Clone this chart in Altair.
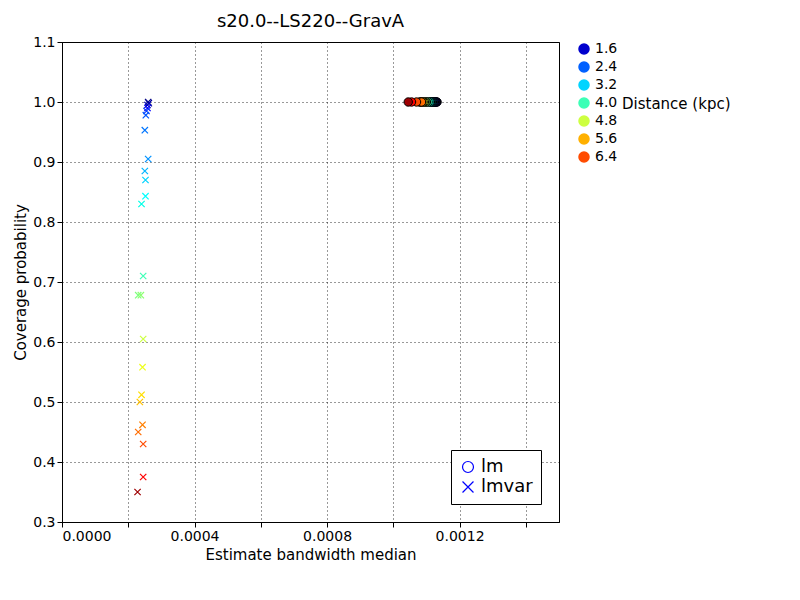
import altair as alt
import pandas as pd

# distance (kpc) per model, shared by both estimators
distance = [1.1, 1.3, 1.5, 1.9, 2.1, 2.3, 2.6, 2.8, 3.0, 3.2, 3.5, 3.7,
            4.0, 4.3, 4.4, 4.8, 5.0, 5.3, 5.5, 5.9, 6.1, 6.4, 6.7, 7.3]

# lmvar crosses
cov_lmvar = [1.0, 0.998, 0.995, 0.99, 0.985, 0.978, 0.953, 0.905, 0.885, 0.87, 0.843, 0.83,
             0.71, 0.678, 0.678, 0.605, 0.558, 0.512, 0.50, 0.462, 0.45, 0.43, 0.375, 0.35]
bw_lmvar = [0.000260, 0.000262, 0.000258, 0.000258, 0.000255, 0.000253, 0.000250, 0.000260,
            0.000250, 0.000252, 0.000252, 0.000240, 0.000245, 0.000230, 0.000238, 0.000245,
            0.000243, 0.000240, 0.000235, 0.000243, 0.000230, 0.000245, 0.000245, 0.000228]

# lm circles (all at coverage 1)
bw_lm = [0.001132, 0.001130, 0.001128, 0.001126, 0.001124, 0.001122, 0.001120, 0.001118,
         0.001116, 0.001114, 0.001112, 0.001110, 0.001105, 0.001100, 0.001098, 0.001094,
         0.001090, 0.001086, 0.001082, 0.001080, 0.001085, 0.001070, 0.001055, 0.001045]
cov_lm = [1.0] * len(distance)

df_lm = pd.DataFrame({"bw": bw_lm, "cov": cov_lm, "dist": distance, "method": "lm"})
df_var = pd.DataFrame({"bw": bw_lmvar, "cov": cov_lmvar, "dist": distance, "method": "lmvar"})

jet = ["#00007f", "#0000ff", "#007fff", "#00ffff", "#7fff7f", "#ffff00", "#ff7f00", "#ff0000", "#7f0000"]
xpath = "M-1,-1L1,1M-1,1L1,-1"

color = alt.Color("dist:Q", scale=alt.Scale(domain=[1.1, 7.5], range=jet),
                  legend=alt.Legend(title="Distance (kpc)", orient="right", gradientLength=480,
                                    gradientThickness=25, values=[1.6, 2.4, 3.2, 4.0, 4.8, 5.6, 6.4],
                                    format=".1f", titleOrient="right", labelFontSize=14,
                                    titleFontSize=15, titleFontWeight="normal", gradientStrokeColor="black"))
shape = alt.Shape("method:N", scale=alt.Scale(domain=["lm", "lmvar"], range=["circle", xpath]),
                  legend=alt.Legend(title=None, orient="bottom-right", labelFontSize=18,
                                    symbolSize=120, symbolFillColor="blue", symbolStrokeColor="blue",
                                    strokeColor="black", fillColor="white", padding=8, symbolStrokeWidth=1.2))
x = alt.X("bw:Q", title="Estimate bandwidth median",
          scale=alt.Scale(domain=[0, 0.0015], nice=False),
          axis=alt.Axis(values=[i * 0.0002 for i in range(8)], format=".4f"))
y = alt.Y("cov:Q", title="Coverage probability", scale=alt.Scale(domain=[0.3, 1.1], nice=False),
          axis=alt.Axis(values=[0.3 + i * 0.1 for i in range(9)], format=".1f"))

circles = alt.Chart(df_lm).mark_point(filled=True, size=70, stroke="black", strokeWidth=1, opacity=1).encode(
    x=x, y=y, color=color, shape=shape)
crosses = alt.Chart(df_var).mark_point(filled=False, size=40, strokeWidth=1.2, opacity=1).encode(
    x=x, y=y, color=color, shape=shape)

chart = (crosses + circles).properties(
    width=497, height=480,
    title=alt.Title("s20.0--LS220--GravA", fontSize=18, fontWeight="normal", font="DejaVu Sans")
).configure_axis(
    grid=True, gridColor="black", gridDash=[1, 3], gridOpacity=0.8,
    domainColor="black", tickColor="black", labelColor="black",
    labelFontSize=14, titleFontSize=15, titleFontWeight="normal",
    labelFont="DejaVu Sans", titleFont="DejaVu Sans", tickSize=5
).configure_legend(labelFont="DejaVu Sans", titleFont="DejaVu Sans"
).configure_view(stroke="black")

chart.save("out.html", embed_options={"renderer": "svg", "actions": False})
